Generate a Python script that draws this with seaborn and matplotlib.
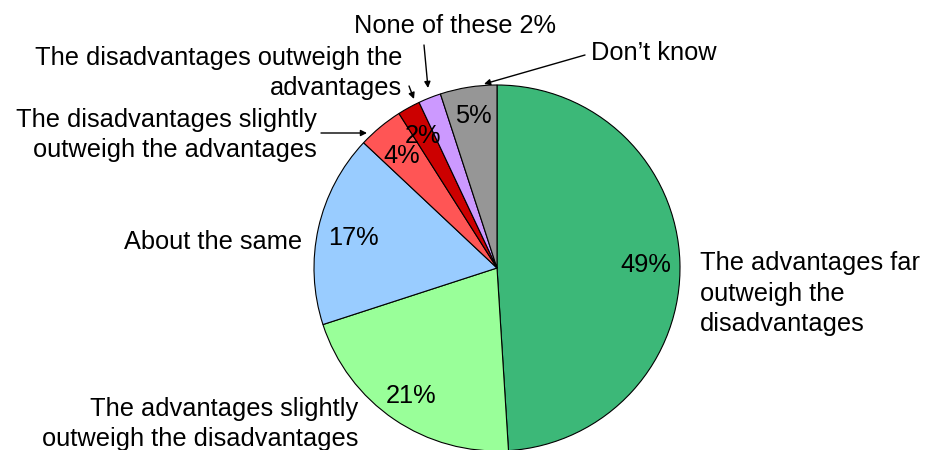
import matplotlib
matplotlib.use("Agg")
import matplotlib.pyplot as plt
import seaborn as sns

# Survey responses (percent of respondents), clockwise from 12 o'clock
categories = [
    "The advantages far\noutweigh the\ndisadvantages",
    "The advantages slightly\noutweigh the disadvantages",
    "About the same",
    "The disadvantages slightly\noutweigh the advantages",
    "The disadvantages outweigh the\nadvantages",
    "None of these 2%",
    "Don\u2019t know",
]
values = [49, 21, 17, 4, 2, 2, 5]
slice_colors = ["#3CB878", "#99FF99", "#99CCFF", "#FF5555", "#CC0000", "#CC99FF", "#969696"]

sns.set_theme(style="white")
plt.rcParams["font.family"] = ["Liberation Sans", "DejaVu Sans"]

W, H = 925, 450
fig = plt.figure(figsize=(W / 100, H / 100), dpi=100)
ax = fig.add_axes([0, 0, 1, 1])

palette = sns.color_palette(slice_colors)
FS = 18.3


def fy(y):
    # convert a top-down pixel row to the upward data axis
    return H - y


cx, cy, r = 497, fy(268), 183
wedges, _ = ax.pie(
    values,
    colors=palette,
    startangle=90,
    counterclock=False,
    radius=r,
    center=(cx, cy),
    wedgeprops=dict(edgecolor="black", linewidth=0.8),
)
ax.set_xlim(0, W)
ax.set_ylim(0, H)
ax.set_aspect("auto")
ax.axis("off")

# percentage labels inside the slices (x centre, baseline row)
pct_pos = [(646, 272), (411, 403), (353, 245), (401.5, 163), (423, 143), None, (473.5, 123)]
for v, pos in zip(values, pct_pos):
    if pos is None:
        continue
    ax.text(pos[0], fy(pos[1]), f"{v}%", ha="center", va="baseline", fontsize=FS, color="black")

# category labels (anchor x, last-line baseline row, alignment)
label_pos = [
    (700, 331, "left"),
    (358, 446, "right"),
    (302, 249, "right"),
    (317, 157, "right"),
    (402, 95, "right"),
    (455, 33, "center"),
    (591, 60, "left"),
]
for text, (x, y, ha) in zip(categories, label_pos):
    ax.text(x, fy(y), text, ha=ha, va="baseline", fontsize=FS, color="black",
            linespacing=1.33, multialignment=ha)

# leader arrows for the thin slices
arrow_kw = dict(arrowstyle="-|>", color="black", lw=1.0, mutation_scale=9, shrinkA=0, shrinkB=0)
leaders = [
    ((321, 133), (367, 133)),
    ((409, 86), (414, 99)),
    ((424, 45), (428, 88)),
    ((585, 55), (484, 84)),
]
for (x0, y0), (x1, y1) in leaders:
    ax.annotate("", xy=(x1, fy(y1)), xytext=(x0, fy(y0)), arrowprops=arrow_kw)

fig.savefig("out.png", dpi=100, facecolor="white")
